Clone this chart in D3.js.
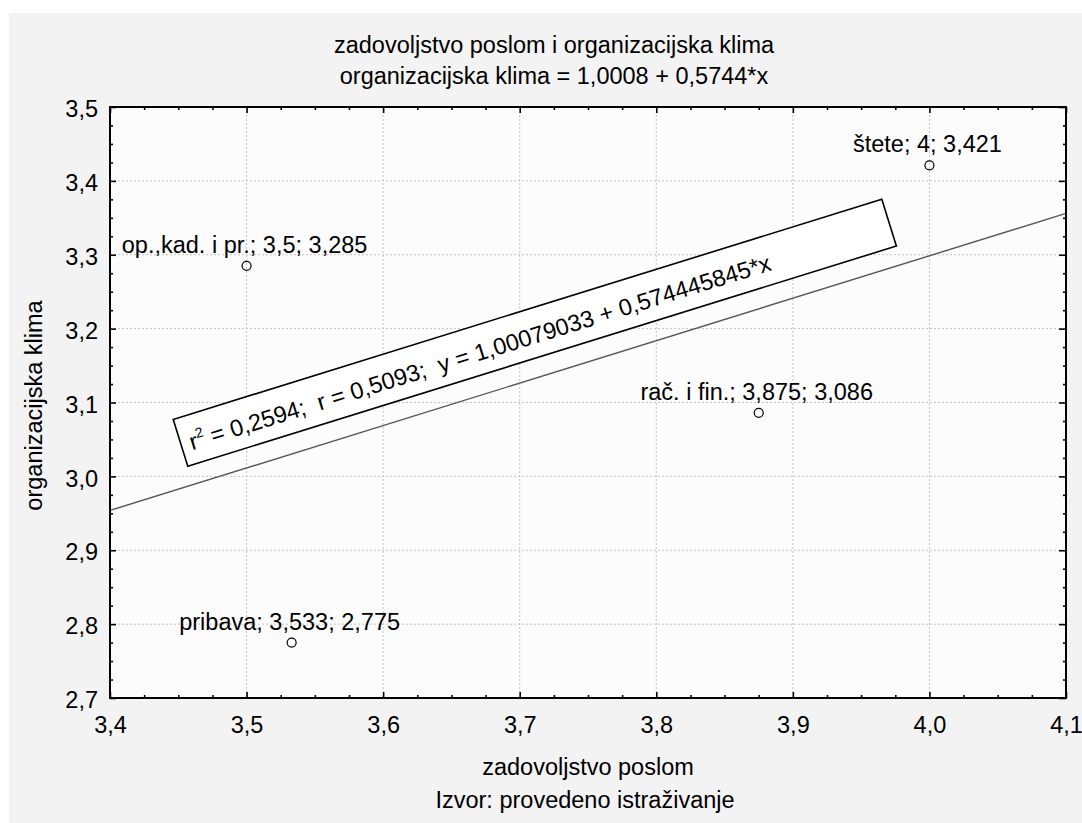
<!DOCTYPE html>
<html>
<head>
<meta charset="utf-8">
<script src="https://cdn.jsdelivr.net/npm/d3@7"></script>
<style>
  html, body { margin: 0; padding: 0; background: #ffffff; }
  svg text { font-family: "Liberation Sans", Arial, Helvetica, sans-serif; fill: #000; }
</style>
</head>
<body>
<svg id="chart" width="1082" height="823"></svg>
<script>
// ---- data ----
const titleLines = ["zadovoljstvo poslom i organizacijska klima", "organizacijska klima = 1,0008 + 0,5744*x"];
const xAxisTitle = "zadovoljstvo poslom";
const yAxisTitle = "organizacijska klima";
const sourceText = "Izvor: provedeno istraživanje";
const categories = ["op.,kad. i pr.", "štete", "rač. i fin.", "pribava"];
const xValues = [3.5, 4.0, 3.875, 3.533];
const yValues = [3.285, 3.421, 3.086, 2.775];
const xTicks = [3.4, 3.5, 3.6, 3.7, 3.8, 3.9, 4.0, 4.1];
const yTicks = [2.7, 2.8, 2.9, 3.0, 3.1, 3.2, 3.3, 3.4, 3.5];
const intercept = 1.00079033;
const slope = 0.574445845;
const r2Text = "0,2594";
const rText = "0,5093";
const eqText = "y = 1,00079033 + 0,574445845*x";
const boxAnchor = [3.4463, 3.0771]; // data coords of annotation box corner

// ---- layout ----
const W = 1082, H = 823;
const L = 110, R = 1066, T = 107, B = 698;
const FS = 23.5;

const svg = d3.select("#chart");
const loc = d3.formatLocale({decimal: ",", thousands: ".", grouping: [3], currency: ["", ""]});
const f1 = loc.format(".1f");
const numText = v => String(v).replace(".", ",");

const x = d3.scaleLinear().domain([3.4, 4.1]).range([L, R]);
const y = d3.scaleLinear().domain([2.7, 3.5]).range([B, T]);

// backgrounds
svg.append("rect").attr("x", 9).attr("y", 13).attr("width", W - 9).attr("height", H - 13).attr("fill", "#f3f3f3");
svg.append("rect").attr("x", L).attr("y", T).attr("width", R - L).attr("height", B - T).attr("fill", "#fcfcfc");

// minor tick values
const xMinor = d3.range(0, 29).map(i => 3.4 + i * 0.025).filter(v => Math.abs((v * 10) - Math.round(v * 10)) > 1e-6);
const yMinor = d3.range(0, 33).map(i => 2.7 + i * 0.025).filter(v => Math.abs((v * 10) - Math.round(v * 10)) > 1e-6);

// grid
const grid = svg.append("g");
grid.selectAll(".gx").data(xTicks.slice(1, -1)).join("line")
  .attr("x1", d => x(d)).attr("x2", d => x(d)).attr("y1", T).attr("y2", B)
  .attr("stroke", "#c4c4c4").attr("stroke-width", 1).attr("stroke-dasharray", "2,2");
grid.selectAll(".gy").data(yTicks.slice(1, -1)).join("line")
  .attr("y1", d => y(d)).attr("y2", d => y(d)).attr("x1", L).attr("x2", R)
  .attr("stroke", "#c4c4c4").attr("stroke-width", 1).attr("stroke-dasharray", "2,2");

// regression line
const lineGen = d3.line().x(d => x(d)).y(d => y(intercept + slope * d));
svg.append("path").datum([3.4, 4.1]).attr("d", lineGen)
  .attr("fill", "none").attr("stroke", "#555").attr("stroke-width", 1.4);

// annotation box
const angle = Math.atan2(y(intercept + slope * 4.1) - y(intercept + slope * 3.4), x(4.1) - x(3.4)) * 180 / Math.PI;
const ann = svg.append("g").attr("transform", `translate(${x(boxAnchor[0])},${y(boxAnchor[1])}) rotate(${angle})`);
ann.append("rect").attr("x", 0).attr("y", 0).attr("width", 742).attr("height", 49)
  .attr("fill", "#fff").attr("stroke", "#000").attr("stroke-width", 1.6);
const at = ann.append("text").attr("x", 9).attr("y", 35).attr("font-size", FS)
  .attr("xml:space", "preserve").style("white-space", "pre");
at.append("tspan").text("r");
at.append("tspan").attr("font-size", 14).attr("dy", -10).text("2");
at.append("tspan").attr("dy", 10).text(` = ${r2Text};  r = ${rText};  ${eqText}`);

// points
svg.selectAll(".pt").data(xValues).join("circle")
  .attr("cx", d => x(d)).attr("cy", (d, i) => y(yValues[i])).attr("r", 4.5)
  .attr("fill", "none").attr("stroke", "#000").attr("stroke-width", 1.2);
svg.selectAll(".pl").data(categories).join("text")
  .attr("x", (d, i) => x(xValues[i]) - 2).attr("y", (d, i) => y(yValues[i]) - 13)
  .attr("text-anchor", "middle").attr("font-size", FS)
  .text((d, i) => `${d}; ${numText(xValues[i])}; ${numText(yValues[i])}`);

// axes
function styleAxis(g) {
  g.select(".domain").remove();
  g.selectAll("line").attr("stroke", "#000").attr("stroke-width", 1.6);
  g.selectAll("text").attr("font-size", FS).attr("font-family", null);
}
svg.append("g").attr("transform", `translate(0,${B})`)
  .call(d3.axisBottom(x).tickValues(xTicks).tickSize(-6).tickPadding(18.5).tickFormat(f1)).call(styleAxis);
svg.append("g").attr("transform", `translate(0,${B})`)
  .call(d3.axisBottom(x).tickValues(xMinor).tickSize(-3).tickFormat("")).call(styleAxis);
svg.append("g").attr("transform", `translate(0,${T})`)
  .call(d3.axisTop(x).tickValues(xTicks).tickSize(-6).tickFormat("")).call(styleAxis);
svg.append("g").attr("transform", `translate(0,${T})`)
  .call(d3.axisTop(x).tickValues(xMinor).tickSize(-3).tickFormat("")).call(styleAxis);
const yAx = svg.append("g").attr("transform", `translate(${L},0)`)
  .call(d3.axisLeft(y).tickValues(yTicks).tickSize(-6).tickPadding(12).tickFormat(f1)).call(styleAxis);
yAx.selectAll("text").attr("dy", "0.41em");
svg.append("g").attr("transform", `translate(${L},0)`)
  .call(d3.axisLeft(y).tickValues(yMinor).tickSize(-3).tickFormat("")).call(styleAxis);
svg.append("g").attr("transform", `translate(${R},0)`)
  .call(d3.axisRight(y).tickValues(yTicks).tickSize(-7).tickFormat("")).call(styleAxis);
svg.append("g").attr("transform", `translate(${R},0)`)
  .call(d3.axisRight(y).tickValues(yMinor).tickSize(-3).tickFormat("")).call(styleAxis);

// frame
svg.append("rect").attr("x", L).attr("y", T).attr("width", R - L).attr("height", B - T)
  .attr("fill", "none").attr("stroke", "#000").attr("stroke-width", 2);

// titles
svg.selectAll(".title").data(titleLines).join("text")
  .attr("x", 554).attr("y", (d, i) => 53 + i * 31).attr("text-anchor", "middle")
  .attr("font-size", FS).text(d => d);
svg.append("text").attr("x", (L + R) / 2).attr("y", 775).attr("text-anchor", "middle")
  .attr("font-size", FS).text(xAxisTitle);
svg.append("text").attr("x", (L + R) / 2 - 3).attr("y", 808).attr("text-anchor", "middle")
  .attr("font-size", FS).text(sourceText);
svg.append("text").attr("transform", `translate(42,${(T + B) / 2 + 3}) rotate(-90)`).attr("text-anchor", "middle")
  .attr("font-size", FS).text(yAxisTitle);
</script>
</body>
</html>
